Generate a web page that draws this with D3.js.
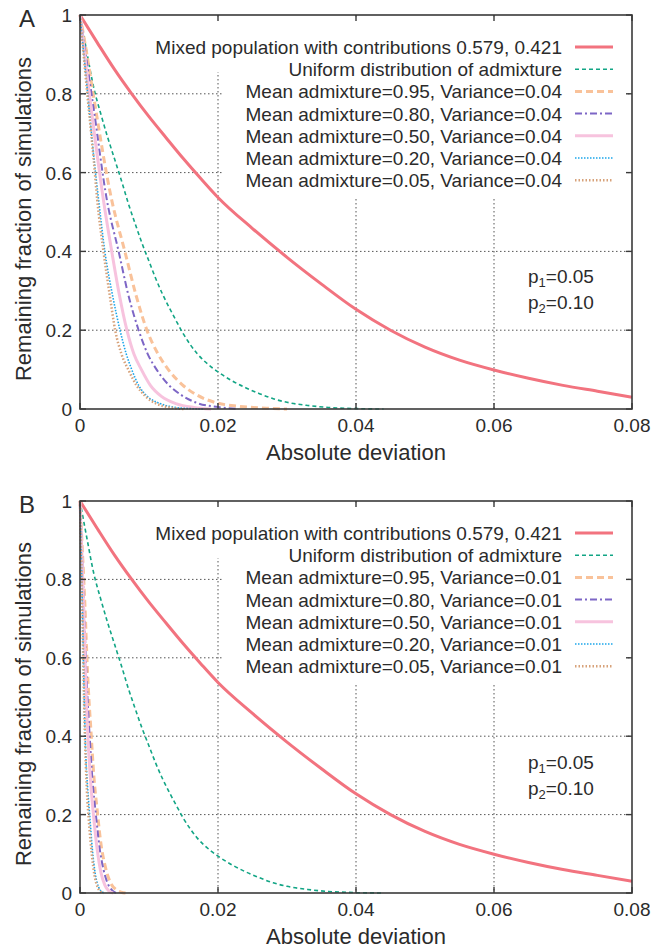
<!DOCTYPE html>
<html>
<head>
<meta charset="utf-8">
<script src="https://cdn.jsdelivr.net/npm/d3@7"></script>
<style>
  body { margin: 0; background: #fff; }
  text { font-family: "Liberation Sans", Arial, sans-serif; fill: #2b2b2b; }
</style>
</head>
<body>
<script>
// ---- data ----
var xTicks = [0, 0.02, 0.04, 0.06, 0.08];
var yTicks = [0, 0.2, 0.4, 0.6, 0.8, 1];

// same two reference curves in both panels
var mixedCurve = [[0,1],[0.0025,0.93],[0.005,0.862],[0.0075,0.8],[0.01,0.742],[0.0125,0.688],[0.015,0.635],
  [0.0175,0.585],[0.02,0.537],[0.025,0.458],[0.03,0.385],[0.035,0.317],[0.04,0.253],[0.045,0.2],[0.05,0.157],
  [0.055,0.124],[0.06,0.099],[0.065,0.078],[0.07,0.06],[0.075,0.045],[0.08,0.03]];
var uniformCurve = [[0,1],[0.001,0.905],[0.002,0.815],[0.003,0.75],[0.004,0.69],[0.005,0.635],[0.006,0.58],
  [0.007,0.522],[0.008,0.47],[0.009,0.42],[0.01,0.375],[0.011,0.33],[0.012,0.29],[0.013,0.255],[0.014,0.222],
  [0.015,0.19],[0.016,0.163],[0.017,0.14],[0.018,0.122],[0.019,0.107],[0.02,0.094],[0.022,0.072],[0.024,0.054],
  [0.026,0.039],[0.028,0.026],[0.03,0.017],[0.033,0.009],[0.036,0.004],[0.04,0.001],[0.044,0]];

// panel A, variance 0.04
var mean95A = [[0,1],[0.001,0.9],[0.002,0.79],[0.0046,0.53],[0.0065,0.4],[0.0081,0.29],[0.0097,0.2],[0.0113,0.14],
  [0.0128,0.1],[0.0148,0.062],[0.017,0.035],[0.0195,0.017],[0.023,0.007],[0.027,0.002],[0.03,0]];
var mean80A = [[0,1],[0.001,0.88],[0.002,0.76],[0.0039,0.53],[0.0056,0.4],[0.007,0.29],[0.0085,0.2],[0.0098,0.14],
  [0.0111,0.1],[0.0128,0.062],[0.0148,0.034],[0.017,0.015],[0.02,0.005],[0.023,0]];
var mean50A = [[0,1],[0.001,0.85],[0.002,0.71],[0.0034,0.53],[0.0046,0.4],[0.0057,0.29],[0.0068,0.2],[0.0078,0.14],
  [0.0089,0.1],[0.0102,0.06],[0.0118,0.032],[0.014,0.013],[0.0165,0.004],[0.019,0]];
var mean20A = [[0,1],[0.001,0.82],[0.002,0.64],[0.0027,0.53],[0.0036,0.4],[0.0047,0.29],[0.0058,0.2],[0.0067,0.14],
  [0.0075,0.1],[0.0085,0.06],[0.0097,0.033],[0.0116,0.014],[0.0135,0.005],[0.016,0.001],[0.018,0]];
var mean05A = [[0,1],[0.001,0.81],[0.002,0.63],[0.0025,0.53],[0.0034,0.4],[0.0043,0.29],[0.0051,0.2],[0.006,0.14],
  [0.007,0.1],[0.0082,0.06],[0.0095,0.032],[0.011,0.014],[0.013,0.004],[0.015,0]];

// panel B, variance 0.01
var mean95B = [[0,1],[0.0003,0.89],[0.0007,0.74],[0.0011,0.56],[0.0016,0.41],[0.002,0.3],[0.0025,0.21],[0.003,0.13],
  [0.0037,0.065],[0.0044,0.027],[0.0052,0.009],[0.006,0.002],[0.0066,0]];
var mean80B = [[0,1],[0.0003,0.87],[0.0006,0.72],[0.001,0.53],[0.0014,0.4],[0.0018,0.29],[0.0023,0.2],[0.0028,0.12],
  [0.0034,0.06],[0.004,0.025],[0.0046,0.008],[0.0052,0]];
var mean50B = [[0,1],[0.0003,0.85],[0.0006,0.68],[0.0009,0.5],[0.0012,0.38],[0.0016,0.27],[0.002,0.19],[0.0025,0.11],
  [0.003,0.055],[0.0036,0.02],[0.0042,0.005],[0.0048,0]];
var mean20B = [[0,1],[0.0002,0.85],[0.0004,0.68],[0.0006,0.5],[0.0008,0.37],[0.0011,0.27],[0.0014,0.2],[0.0018,0.11],
  [0.0022,0.05],[0.0027,0.015],[0.0032,0.003],[0.0036,0]];
var mean05B = [[0,1],[0.0002,0.84],[0.0004,0.66],[0.0006,0.48],[0.0008,0.35],[0.001,0.26],[0.0013,0.18],[0.0017,0.1],
  [0.0021,0.045],[0.0026,0.013],[0.003,0.003],[0.0034,0]];

var labelsA = ["Mixed population with contributions 0.579, 0.421", "Uniform distribution of admixture",
  "Mean admixture=0.95, Variance=0.04", "Mean admixture=0.80, Variance=0.04", "Mean admixture=0.50, Variance=0.04",
  "Mean admixture=0.20, Variance=0.04", "Mean admixture=0.05, Variance=0.04"];
var labelsB = ["Mixed population with contributions 0.579, 0.421", "Uniform distribution of admixture",
  "Mean admixture=0.95, Variance=0.01", "Mean admixture=0.80, Variance=0.01", "Mean admixture=0.50, Variance=0.01",
  "Mean admixture=0.20, Variance=0.01", "Mean admixture=0.05, Variance=0.01"];

// line styles, in legend order
var styles = [
  {c: "#f2737f", w: 3,   d: null},
  {c: "#12a585", w: 1.6, d: "4,3"},
  {c: "#f9c29a", w: 3,   d: "7,4"},
  {c: "#7d66c6", w: 2,   d: "7,3,2,3"},
  {c: "#f7c3de", w: 3,   d: null},
  {c: "#1ba6ea", w: 1.6, d: "1.5,1.5"},
  {c: "#d7a27a", w: 2.5, d: "1.5,2"}
];

// ---- set up ----
var W = 668, H = 951;
var svg = d3.select("body").append("svg").attr("width", W).attr("height", H);
var left = 80, right = 632;
var x = d3.scaleLinear().domain([0, 0.08]).range([left, right]);

var panels = [
  {tag: "A", top: 15,  bottom: 409, labels: labelsA,
   curves: [mixedCurve, uniformCurve, mean95A, mean80A, mean50A, mean20A, mean05A]},
  {tag: "B", top: 501, bottom: 893, labels: labelsB,
   curves: [mixedCurve, uniformCurve, mean95B, mean80B, mean50B, mean20B, mean05B]}
];

panels.forEach(function(p) {
  var y = d3.scaleLinear().domain([0, 1]).range([p.bottom, p.top]);
  var g = svg.append("g");

  // grid
  g.selectAll(".gx").data(xTicks.slice(1, -1)).enter().append("line")
    .attr("x1", x).attr("x2", x).attr("y1", p.top).attr("y2", p.bottom)
    .attr("stroke", "#555").attr("stroke-width", 1).attr("stroke-dasharray", "1.5,2.5");
  g.selectAll(".gy").data(yTicks.slice(1, -1)).enter().append("line")
    .attr("x1", left).attr("x2", right).attr("y1", y).attr("y2", y)
    .attr("stroke", "#555").attr("stroke-width", 1).attr("stroke-dasharray", "1.5,2.5");

  // opaque key area
  g.append("rect").attr("x", 222).attr("y", p.top + 2).attr("width", 404).attr("height", 181).attr("fill", "#fff");
  g.append("rect").attr("x", 150).attr("y", p.top + 2).attr("width", 476).attr("height", 55).attr("fill", "#fff");

  // curves
  var line = d3.line().x(function(d) { return x(d[0]); }).y(function(d) { return y(d[1]); })
    .curve(d3.curveMonotoneX);
  p.curves.forEach(function(c, i) {
    var s = styles[i];
    g.append("path").datum(c).attr("d", line).attr("fill", "none")
      .attr("stroke", s.c).attr("stroke-width", s.w)
      .attr("stroke-dasharray", s.d).attr("stroke-linejoin", "round");
  });

  // legend
  p.labels.forEach(function(lab, i) {
    var cy = p.top + 32 + i * 22.2;
    g.append("text").attr("x", 562).attr("y", cy + 7).attr("text-anchor", "end")
      .style("font-size", "19px").text(lab);
    var s = styles[i];
    g.append("line").attr("x1", 575).attr("x2", 613).attr("y1", cy).attr("y2", cy)
      .attr("stroke", s.c).attr("stroke-width", s.w).attr("stroke-dasharray", s.d);
  });

  // p1 / p2 note
  [["1", "=0.05", 268], ["2", "=0.10", 294]].forEach(function(n) {
    var t = g.append("text").attr("x", 528).attr("y", p.top + n[2]).style("font-size", "19px");
    t.append("tspan").text("p");
    t.append("tspan").attr("dy", 4).style("font-size", "13px").text(n[0]);
    t.append("tspan").attr("dy", -4).text(n[1]);
  });

  // frame and inward ticks
  g.append("rect").attr("x", left).attr("y", p.top).attr("width", right - left).attr("height", p.bottom - p.top)
    .attr("fill", "none").attr("stroke", "#3a3a3a").attr("stroke-width", 1.6);
  var tl = 6;
  xTicks.forEach(function(t) {
    g.append("line").attr("x1", x(t)).attr("x2", x(t)).attr("y1", p.bottom).attr("y2", p.bottom - tl)
      .attr("stroke", "#3a3a3a").attr("stroke-width", 1.4);
    g.append("line").attr("x1", x(t)).attr("x2", x(t)).attr("y1", p.top).attr("y2", p.top + tl)
      .attr("stroke", "#3a3a3a").attr("stroke-width", 1.4);
    g.append("text").attr("x", x(t)).attr("y", p.bottom + 23).attr("text-anchor", "middle")
      .style("font-size", "19px").text(t === 0 ? "0" : d3.format(".2f")(t));
  });
  yTicks.forEach(function(t) {
    g.append("line").attr("x1", left).attr("x2", left + tl).attr("y1", y(t)).attr("y2", y(t))
      .attr("stroke", "#3a3a3a").attr("stroke-width", 1.4);
    g.append("line").attr("x1", right).attr("x2", right - tl).attr("y1", y(t)).attr("y2", y(t))
      .attr("stroke", "#3a3a3a").attr("stroke-width", 1.4);
    g.append("text").attr("x", 72).attr("y", y(t) + 7).attr("text-anchor", "end")
      .style("font-size", "19px").text(t === 0 || t === 1 ? String(t) : d3.format(".1f")(t));
  });

  // axis titles
  g.append("text").attr("x", (left + right) / 2).attr("y", p.bottom + 51).attr("text-anchor", "middle")
    .style("font-size", "22px").text("Absolute deviation");
  var cy = (p.top + p.bottom) / 2 + 7;
  g.append("text").attr("transform", "translate(31," + cy + ") rotate(-90)").attr("text-anchor", "middle")
    .style("font-size", "22px").text("Remaining fraction of simulations");

  // panel letter
  g.append("text").attr("x", 19).attr("y", p.top + 12).style("font-size", "24px").text(p.tag);
});
</script>
</body>
</html>
